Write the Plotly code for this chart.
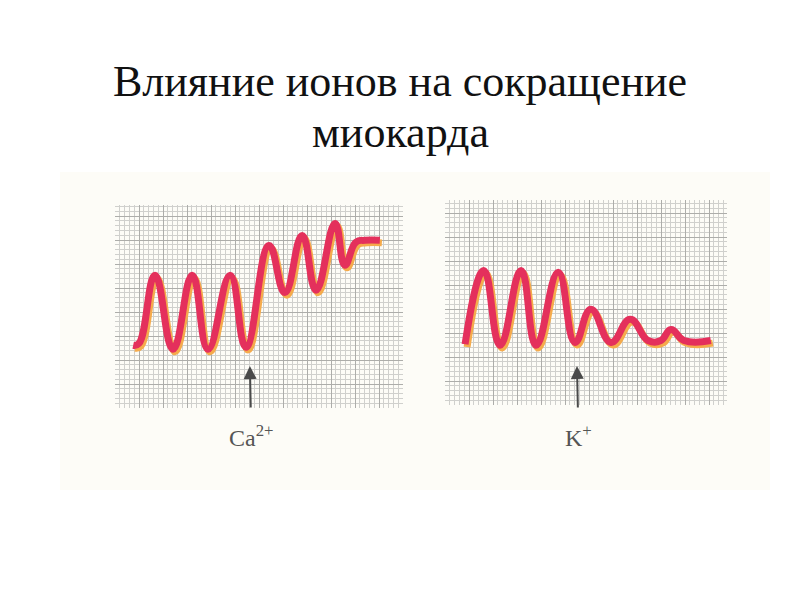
import plotly.graph_objects as go

# Contraction traces (x: mm of chart paper, y: mm above bottom edge)
ca_t = [4.2, 5.4, 8.75, 12.5, 16.5, 19.8, 24.4, 27.7, 32.5, 35.8, 39.4, 42.3, 46.25, 48.3, 50.6, 52.5, 55.6]
ca_force = [12.5, 12.9, 27.1, 11.7, 27.1, 11.7, 27.1, 12.1, 33.3, 23.5, 35.4, 24.0, 37.9, 29.2, 34.0, 34.4, 34.4]

k_t = [4.6, 8.5, 11.9, 16.25, 19.4, 24.0, 27.5, 30.8, 35.0, 39.0, 42.7, 45.4, 47.5, 50.2, 55.8]
k_force = [12.1, 27.5, 11.9, 27.5, 11.9, 27.1, 12.5, 19.4, 12.5, 17.3, 12.9, 12.9, 15.2, 12.9, 12.9]

ion_labels = ["Ca<sup>2+</sup>", "K<sup>+</sup>"]
ion_times = [28.1, 27.5]
title_lines = ["Влияние ионов на сокращение", "миокарда"]

W, H = 800, 600
OFF = 8     # page margin of the browser
PX = 4.8    # pixels per mm of paper


def fx(px):
    return (px - OFF) / W


def fy(py):
    return 1 - (py - OFF) / H


# panel boxes in screen pixels: left, right, top, bottom
boxes = [(115, 403, 205, 408), (445, 727, 200, 405)]

fig = go.Figure()

RED = "#e4305c"
GLOW = "#f5ab4c"
dx_px, dy_px = 2.0, 2.6

series = [(ca_t, ca_force), (k_t, k_force)]
for i, ((l, r, t, b), (xs, ys)) in enumerate(zip(boxes, series)):
    xr = [0, (r - l) / PX]
    yr = [0, (b - t) / PX]
    dom_x = [fx(l), fx(r)]
    dom_y = [fy(b), fy(t)]
    base = i * 2 + 1
    over = base + 1
    bx = "x" if base == 1 else f"x{base}"
    by = "y" if base == 1 else f"y{base}"
    ox, oy = f"x{over}", f"y{over}"
    grid_axis = dict(
        showticklabels=False, ticks="", zeroline=False,
        showline=False, dtick=5, tick0=0, gridcolor="#adadaa", gridwidth=1,
        minor=dict(dtick=1, tick0=0, showgrid=True, gridcolor="#d0d0cd", gridwidth=1),
        fixedrange=True,
    )
    xa = dict(grid_axis, range=xr, domain=dom_x, anchor=by)
    ya = dict(grid_axis, range=yr, domain=dom_y, anchor=bx)
    sx = dx_px / PX
    sy = dy_px / PX
    oxa = dict(range=[xr[0] + sx, xr[1] + sx], domain=dom_x, overlaying=bx, anchor=oy,
               visible=False, showgrid=False, zeroline=False, fixedrange=True)
    oya = dict(range=[yr[0] - sy, yr[1] - sy], domain=dom_y, overlaying=by, anchor=ox,
               visible=False, showgrid=False, zeroline=False, fixedrange=True)
    fig.update_layout(**{
        ("xaxis" if base == 1 else f"xaxis{base}"): xa,
        ("yaxis" if base == 1 else f"yaxis{base}"): ya,
        f"xaxis{over}": oxa,
        f"yaxis{over}": oya,
    })
    # yellow/orange under-trace
    fig.add_trace(go.Scatter(x=xs, y=ys, mode="lines", xaxis=bx, yaxis=by,
                             line=dict(color=GLOW, width=7, shape="spline", smoothing=1.3),
                             hoverinfo="skip", showlegend=False))
    # red ink trace, slightly up-left
    fig.add_trace(go.Scatter(x=xs, y=ys, mode="lines", xaxis=ox, yaxis=oy,
                             line=dict(color=RED, width=7, shape="spline", smoothing=1.3),
                             hoverinfo="skip", showlegend=False))
    # label with arrow pointing up to the moment of ion addition
    label_y = -(436 - b) / PX
    fig.add_annotation(x=ion_times[i], y=(b - 366) / PX, xref=bx, yref=by,
                       ax=ion_times[i] + 0.3, ay=label_y, axref=bx, ayref=by,
                       showarrow=True, arrowhead=2, arrowsize=1.3, arrowwidth=2,
                       arrowcolor="#4a4a4a", startstandoff=12,
                       text=ion_labels[i],
                       font=dict(family="Liberation Serif", size=24, color="#555555"))

# title lines
fig.add_annotation(x=fx(400), y=fy(82), xref="paper", yref="paper", text=title_lines[0],
                   xanchor="center", yanchor="middle", showarrow=False,
                   font=dict(family="Liberation Serif", size=44, color="#111111"))
fig.add_annotation(x=fx(400), y=fy(132), xref="paper", yref="paper", text=title_lines[1],
                   xanchor="center", yanchor="middle", showarrow=False,
                   font=dict(family="Liberation Serif", size=44, color="#111111"))

# faint scanned-page tint
fig.add_shape(type="rect", xref="paper", yref="paper", x0=fx(60), x1=fx(770),
              y0=fy(490), y1=fy(172), fillcolor="#fdfcf7", line=dict(width=0),
              layer="below")

fig.update_layout(width=W, height=H, margin=dict(l=0, r=0, t=0, b=0),
                  paper_bgcolor="white", plot_bgcolor="#ededeb", showlegend=False)

fig.write_html("out.html")
